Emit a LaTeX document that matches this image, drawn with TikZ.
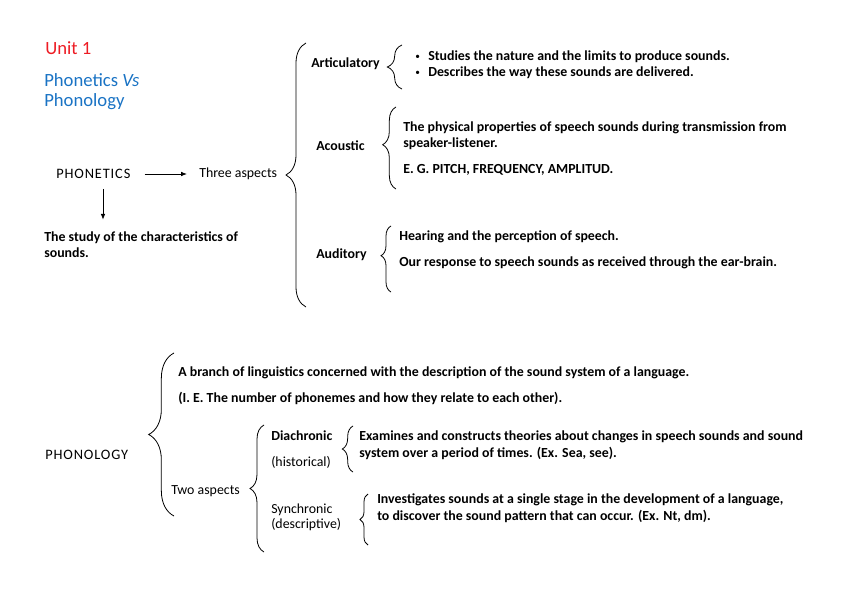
\documentclass[tikz,border=0pt]{standalone}
\usepackage{fontspec}
\setmainfont{Carlito}
\newfontfamily\capsfont[LetterSpace=6]{Carlito}
\usetikzlibrary{arrows.meta,decorations.pathreplacing}
\definecolor{unitred}{RGB}{237,28,36}
\definecolor{titleblue}{RGB}{26,115,196}

\begin{document}
\begin{tikzpicture}[x=0.75pt,y=-0.75pt,
  txt/.style={anchor=west,inner sep=0pt,font=\fontsize{10.4}{12}\selectfont},
  btxt/.style={anchor=west,inner sep=0pt,font=\fontsize{10.4}{12}\selectfont\bfseries},
  caps/.style={anchor=west,inner sep=0pt,font=\fontsize{10.8}{12}\selectfont\capsfont},
  head/.style={anchor=west,inner sep=0pt,font=\fontsize{14}{16.5}\selectfont},
  dot/.style={anchor=west,inner sep=0pt,font=\fontsize{7}{8}\selectfont},
  brc/.style={decorate,decoration={brace,amplitude=#1},line width=0.6pt},
  arr/.style={-{Latex[length=4.5pt,width=3.5pt]},line width=0.6pt}]
\useasboundingbox (0,0) rectangle (848,599);

\node[head,text=unitred] (unit) at (45,48) {Unit 1};
\node[head,text=titleblue] (titleA) at (44,80) {Phonetics \textit{Vs}};
\node[head,text=titleblue] (titleB) at (44,102) {Phonology};

\node[caps] (phonetics) at (56,174) {PHONETICS};
\node[txt] (three) at (199,174) {Three aspects};
\node[btxt,align=left] (study) at (44,245) {The study of the characteristics of\\sounds.};
\draw[arr,shorten <=10.5pt,shorten >=9pt] (phonetics.east) -- (three.west);
\draw[arr,shorten <=7.5pt,shorten >=9pt] ([xshift=35.25pt]phonetics.south west) -- ([xshift=35.25pt]phonetics.south west |- study.north);

\coordinate (bigB) at (306,307);
\coordinate (bigT) at (306,43);
\draw[brc=15pt] (bigB) -- (bigT);

\node[btxt] (artic) at (311,64) {Articulatory};
\coordinate (articB) at (402,89);
\coordinate (articT) at (402,45);
\draw[brc=11pt] (articB) -- (articT);
\node[dot] (bulA) at (415,57) {\textbullet};
\node[dot] (bulB) at (415,73) {\textbullet};
\node[btxt] (articA) at (428,57) {Studies the nature and the limits to produce sounds.};
\node[btxt] (articC) at (428,73) {Describes the way these sounds are delivered.};

\node[btxt] (acoustic) at (316,146) {Acoustic};
\coordinate (acB) at (396,189);
\coordinate (acT) at (396,107);
\draw[brc=10pt,decoration={aspect=0.54}] (acB) -- (acT);
\node[btxt] (acA) at (403,128) {The physical properties of speech sounds during transmission from};
\node[btxt] (acC) at (403,144) {speaker-listener.};
\node[btxt] (acD) at (403,170) {E. G. PITCH, FREQUENCY, AMPLITUD.};

\node[btxt] (auditory) at (316,255) {Auditory};
\coordinate (audB) at (391,292);
\coordinate (audT) at (391,226);
\draw[brc=7.5pt,decoration={aspect=0.55}] (audB) -- (audT);
\node[btxt] (audA) at (399,237) {Hearing and the perception of speech.};
\node[btxt] (audC) at (399,263) {Our response to speech sounds as received through the ear-brain.};

\node[caps] (phonology) at (45,455) {PHONOLOGY};
\coordinate (phonB) at (174,516);
\coordinate (phonT) at (174,353);
\draw[brc=19pt] (phonB) -- (phonT);
\node[btxt] (branchA) at (178,373) {A branch of linguistics concerned with the description of the sound system of a language.};
\node[btxt] (branchB) at (178,398) {(I. E. The number of phonemes and how they relate to each other).};

\node[txt] (two) at (171,491) {Two aspects};
\coordinate (twoB) at (264,552);
\coordinate (twoT) at (264,425);
\draw[brc=10.5pt] (twoB) -- (twoT);

\node[btxt] (diachronic) at (271,436) {Diachronic};
\node[txt] (historical) at (271,462) {(historical)};
\coordinate (diaB) at (353,472);
\coordinate (diaT) at (353,426);
\draw[brc=8pt] (diaB) -- (diaT);
\node[btxt] (diaA) at (359,437) {Examines and constructs theories about changes in speech sounds and sound};
\node[btxt] (diaC) at (359,453) {system over a period of times. (Ex. Sea, see).};

\node[txt] (synchronic) at (271,510) {Synchronic};
\node[txt] (descriptive) at (271,525) {(descriptive)};
\coordinate (synB) at (368,545);
\coordinate (synT) at (368,494);
\draw[brc=6pt] (synB) -- (synT);
\node[btxt] (synA) at (377,500) {Investigates sounds at a single stage in the development of a language,};
\node[btxt] (synC) at (377,516) {to discover the sound pattern that can occur. (Ex. Nt, dm).};
\end{tikzpicture}
\end{document}
